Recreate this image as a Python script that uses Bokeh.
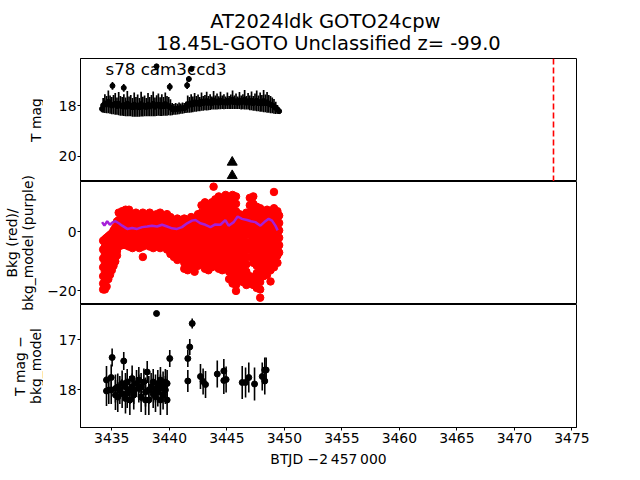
import numpy as np
from bokeh.plotting import figure
from bokeh.layouts import column, row
from bokeh.models import Range1d, FixedTicker, Span, Label
from bokeh.embed import file_html
from bokeh.resources import INLINE

# ---------------- texts ----------------
title_line1 = "AT2024ldk  GOTO24cpw"
title_line2 = "18.45L-GOTO Unclassified z= -99.0"
sector_label = "s78 cam3ccd3"
x_label = "BTJD \u22122\u2009457\u2009000"
y_label_top = ["T mag"]
y_label_mid = ["Bkg (red)/", "bkg_model (purple)"]
y_label_bot = ["T mag \u2212", "bkg_model"]

x_ticks = [3435, 3440, 3445, 3450, 3455, 3460, 3465, 3470, 3475]
top_ticks = [18, 20]
mid_ticks = [-20, 0]
bot_ticks = [17, 18]

# ---------------- top panel: T mag ----------------
tmag_time = [3434.15, 3434.25, 3434.40, 3434.55, 3434.70, 3434.85, 3435.00, 3435.06, 3435.15, 3435.30,
             3435.45, 3435.60, 3435.75, 3435.90, 3436.04, 3436.05, 3436.20, 3436.35, 3436.50, 3436.65,
             3436.80, 3436.95, 3437.10, 3437.25, 3437.40, 3437.55, 3437.70, 3437.85, 3438.00, 3438.15,
             3438.30, 3438.45, 3438.60, 3438.75, 3438.90, 3438.89, 3439.05, 3439.20, 3439.35, 3439.50,
             3439.65, 3439.80, 3439.95, 3440.04, 3440.10, 3440.25, 3440.40, 3440.55, 3440.70, 3440.85,
             3441.00, 3441.15, 3441.30, 3441.45, 3441.55, 3441.70, 3441.93, 3441.60, 3441.75, 3441.90,
             3442.05, 3442.20, 3442.35, 3442.50, 3442.65, 3442.80, 3442.95, 3443.10, 3443.25, 3443.40,
             3443.55, 3443.70, 3443.85, 3444.00, 3444.15, 3444.30, 3444.45, 3444.60, 3444.75, 3444.90,
             3445.05, 3445.20, 3445.35, 3445.50, 3445.65, 3445.80, 3445.95, 3446.10, 3446.25, 3446.40,
             3446.55, 3446.70, 3446.85, 3447.00, 3447.15, 3447.30, 3447.45, 3447.60, 3447.75, 3447.90,
             3448.05, 3448.20, 3448.35, 3448.50, 3448.65, 3448.80, 3448.95, 3449.10, 3449.25, 3449.40,
             3449.55]
tmag = [18.13, 17.99, 17.92, 17.96, 17.85, 17.96, 18.00, 17.22, 17.96, 17.93,
        18.02, 17.92, 18.01, 18.03, 17.30, 17.98, 18.05, 17.92, 18.03, 18.00,
        18.07, 17.96, 18.05, 18.00, 18.07, 17.94, 18.04, 18.01, 18.06, 17.96,
        18.04, 18.00, 17.93, 18.05, 18.00, 16.45, 17.96, 18.04, 17.98, 18.03,
        17.94, 18.01, 18.02, 17.26, 18.07, 18.14, 18.15, 18.13, 18.14, 18.11,
        18.12, 18.10, 18.10, 18.07, 17.20, 16.95, 16.55, 17.94, 17.97, 17.91,
        17.95, 17.87, 17.93, 17.89, 17.94, 17.84, 17.91, 17.88, 17.82, 17.90,
        17.86, 17.90, 17.79, 17.88, 17.84, 17.89, 17.80, 17.87, 17.85, 17.89,
        17.81, 17.88, 17.85, 17.77, 17.87, 17.83, 17.89, 17.80, 17.88, 17.85,
        17.77, 17.89, 17.83, 17.89, 17.81, 17.91, 17.86, 17.81, 17.91, 17.86,
        17.91, 17.82, 17.91, 17.87, 17.93, 17.96, 17.99, 18.03, 18.09, 18.15,
        18.22]
tmag_err = [0.13, 0.29, 0.37, 0.34, 0.45, 0.36, 0.34, 0.15, 0.38, 0.43,
            0.34, 0.46, 0.39, 0.37, 0.15, 0.43, 0.37, 0.50, 0.39, 0.42,
            0.37, 0.48, 0.39, 0.44, 0.37, 0.49, 0.39, 0.41, 0.36, 0.46,
            0.38, 0.42, 0.49, 0.37, 0.41, 0.08, 0.44, 0.37, 0.43, 0.37,
            0.46, 0.39, 0.36, 0.15, 0.32, 0.24, 0.21, 0.23, 0.21, 0.23,
            0.20, 0.22, 0.20, 0.22, 0.15, 0.12, 0.10, 0.34, 0.31, 0.36,
            0.31, 0.37, 0.31, 0.33, 0.28, 0.36, 0.29, 0.30, 0.37, 0.28,
            0.31, 0.26, 0.37, 0.28, 0.32, 0.26, 0.35, 0.27, 0.30, 0.25,
            0.33, 0.26, 0.29, 0.37, 0.27, 0.31, 0.25, 0.34, 0.28, 0.30,
            0.39, 0.27, 0.33, 0.29, 0.37, 0.29, 0.34, 0.41, 0.31, 0.38,
            0.33, 0.44, 0.35, 0.41, 0.35, 0.34, 0.31, 0.29, 0.24, 0.17,
            0.10]

limit_time = [3445.47, 3445.47]
limit_mag = [20.24, 20.77]
event_time = 3473.4

# ---------------- middle panel: background ----------------
bkg_time = [3434.25, 3434.40, 3434.55, 3434.70, 3434.85, 3435.00, 3435.15, 3435.30, 3435.45,
            3435.60, 3435.90, 3436.20, 3436.50, 3436.80, 3437.10, 3437.40, 3437.70, 3438.00,
            3438.30, 3438.60, 3438.90, 3439.20, 3439.50, 3439.80,
            3440.10, 3440.40, 3440.70, 3441.00, 3441.30, 3441.60, 3441.90, 3442.20, 3442.50,
            3442.80, 3443.10, 3443.40, 3443.70, 3443.85, 3444.00, 3444.30, 3444.60, 3444.90,
            3445.20, 3445.50, 3445.80, 3446.10, 3446.40, 3446.70, 3447.00, 3447.30, 3447.60,
            3447.90, 3448.20, 3448.50, 3448.80, 3449.10, 3449.40, 3449.55]
bkg_values = [
    [-3.0, -6.0, -9.0, -12.0, -15.0, -17.5, -19.5],
    [-2.5, -5.0, -7.5, -10.5, -13.5, -16.5, -19.5],
    [-2.0, -4.5, -7.5, -10.5, -13.5, -16.0, -18.5],
    [-1.5, -4.0, -6.5, -9.5, -12.5, -16.0],
    [-1.0, -3.5, -6.0, -9.0, -12.0, -14.5],
    [-0.5, -3.0, -5.5, -8.5, -11.0, -13.0],
    [0.5, -2.0, -4.5, -7.0, -9.5, -11.5],
    [1.5, -1.0, -3.5, -6.0, -8.5, -10.0],
    [3.5, 1.0, -1.5, -4.0, -6.5, -8.0],
    [6.5, 4.0, 1.5, -1.0, -3.5, -5.0],
    [7.0, 5.0, 2.5, 0.0, -2.5, -4.5],
    [7.5, 5.5, 3.0, 0.5, -2.0, -4.5],
    [7.5, 4.5, 2.0, -0.5, -3.0, -5.0],
    [6.0, 3.5, 1.0, -1.5, -4.0, -5.5],
    [6.5, 4.5, 2.0, -0.5, -3.0, -4.5],
    [5.5, 3.5, 1.0, -1.5, -4.0, -5.5],
    [6.5, 4.0, 1.5, -1.0, -3.5, -5.0, -8.5],
    [5.5, 3.0, 0.5, -2.0, -4.5],
    [6.5, 4.5, 2.0, -0.5, -3.0, -5.0],
    [5.5, 3.5, 1.0, -1.5, -4.0, -5.5],
    [6.0, 4.0, 1.5, -1.0, -3.5, -5.0],
    [6.5, 3.5, 1.0, -1.5, -4.0, -5.5],
    [5.5, 4.5, 2.0, -0.5, -3.0, -5.0],
    [6.0, 3.5, 1.0, -1.5, -4.0, -6.0],
    [5.0, 2.5, 0.0, -2.5, -5.0, -7.5],
    [4.0, 1.5, -1.0, -3.5, -6.0, -8.5],
    [4.5, 2.0, -0.5, -3.0, -5.5, -8.0, -9.5],
    [3.5, 1.0, -1.5, -4.0, -6.5, -9.0],
    [4.5, 2.0, -0.5, -3.0, -5.5, -8.0, -10.5, -12.5],
    [4.0, 1.5, -1.0, -3.5, -6.0, -8.5, -11.0, -13.0],
    [5.0, 2.5, 0.0, -2.5, -5.0, -7.5, -10.0, -12.5],
    [4.0, 1.5, -1.0, -3.5, -6.0, -8.5, -11.0, -13.5],
    [6.0, 3.5, 1.0, -1.5, -4.0, -6.5, -9.0, -11.5],
    [9.0, 6.5, 4.0, 1.5, -1.0, -3.5, -6.0, -8.5, -11.0],
    [10.0, 7.5, 5.0, 2.5, 0.0, -2.5, -5.0, -7.5, -10.0, -12.5],
    [9.0, 6.5, 4.0, 1.5, -1.0, -3.5, -6.0, -8.5, -11.0, -13.0],
    [10.0, 7.5, 5.0, 2.5, 0.0, -2.5, -5.0, -7.5, -10.0, -12.0],
    [15.3],
    [11.0, 8.5, 6.0, 3.5, 1.0, -1.5, -4.0, -6.5, -9.0, -11.5],
    [12.0, 9.5, 7.0, 4.5, 2.0, -0.5, -3.0, -5.5, -8.0, -10.5, -12.5],
    [11.5, 9.0, 6.5, 4.0, 1.5, -1.0, -3.5, -6.0, -8.5, -11.0, -13.0],
    [12.5, 10.0, 7.5, 5.0, 2.5, 0.0, -2.5, -5.0, -7.5, -10.0, -12.0],
    [11.5, 9.0, 6.5, 4.0, 1.5, -1.0, -3.5, -6.0, -8.5, -11.0, -13.5, -16.0],
    [12.5, 10.0, 7.5, 5.0, 2.5, 0.0, -2.5, -5.0, -7.5, -10.0, -12.5, -15.0, -17.5],
    [12.0, 9.5, 7.0, 4.5, 2.0, -0.5, -3.0, -5.5, -8.0, -10.5, -13.0, -15.5, -18.0, -20.0],
    [6.0, 3.5, 1.0, -1.5, -4.0, -6.5, -9.0, -11.5, -14.0, -16.5],
    [5.5, 3.0, 0.5, -2.0, -4.5, -7.0, -9.5, -12.0, -14.5, -17.0],
    [6.5, 4.0, 1.5, -1.0, -3.5, -6.0, -8.5, -11.0, -13.5, -16.0, -18.0],
    [11.5, 9.0, 6.5, 4.0, 1.5, -1.0, -3.5, -6.0, -8.5, -15.0, -17.5],
    [12.0, 9.5, 7.0, 4.5, 2.0, -0.5, -3.0, -5.5, -8.0, -10.5, -15.5, -18.0],
    [8.5, 6.0, 3.5, 1.0, -1.5, -4.0, -6.5, -9.0, -11.5, -14.0, -16.5, -19.0],
    [8.0, 5.5, 3.0, 0.5, -2.0, -4.5, -7.0, -9.5, -12.0, -14.5, -17.0, -19.5, -22.3],
    [7.0, 4.5, 2.0, -0.5, -3.0, -5.5, -8.0, -10.5, -13.0, -15.0],
    [7.5, 5.0, 2.5, 0.0, -2.5, -5.0, -7.5, -10.0, -12.5, -14.5],
    [7.0, 4.5, 2.0, -0.5, -3.0, -5.5, -8.0, -10.5, -13.0, -16.8],
    [13.5, 8.0, 5.5, 3.0, 0.5, -2.0, -4.5, -7.0, -9.5, -12.0],
    [7.0, 4.5, 2.0, -0.5, -3.0, -5.5, -8.0, -10.5],
    [5.5, 3.0, 0.5, -2.0, -4.5, -7.0],
]

model_time = [3434.16, 3434.36, 3434.60, 3434.83, 3435.09, 3435.32, 3435.61, 3435.90, 3436.34, 3436.77,
              3437.20, 3437.64, 3438.08, 3438.50, 3438.94, 3439.37, 3439.81, 3440.24, 3440.67, 3441.10,
              3441.55, 3441.98, 3442.27, 3442.70, 3443.14, 3443.57, 3444.00, 3444.44, 3444.87, 3445.16,
              3445.60, 3445.94, 3446.32, 3446.75, 3447.10, 3447.48, 3447.92, 3448.26, 3448.64, 3448.93,
              3449.22, 3449.42]
model_bkg = [3.3, 2.1, 3.6, 2.4, 3.3, 3.6, 2.9, 2.1, 1.0, 1.3,
             1.0, 1.6, 1.8, 2.1, 1.8, 2.4, 1.8, 1.2, 1.0, 1.6,
             2.9, 3.8, 4.0, 2.9, 2.4, 1.6, 2.5, 2.4, 4.0, 2.1,
             3.3, 5.2, 4.4, 4.0, 3.6, 3.3, 2.1, 3.3, 4.4, 3.8,
             2.1, 0.5]

# ---------------- bottom panel: T mag - bkg_model ----------------
diff_time = [3434.54, 3434.54, 3434.74, 3434.95, 3434.95, 3435.03, 3435.32, 3435.32, 3435.52, 3435.52,
             3435.70, 3435.90, 3435.90, 3436.04, 3436.19, 3436.19, 3436.34, 3436.34, 3436.57, 3436.57,
             3436.77, 3436.77, 3436.91, 3436.91, 3437.15, 3437.35, 3437.35, 3437.55, 3437.55, 3437.79,
             3437.93, 3437.93, 3438.08, 3438.22, 3438.22, 3438.42, 3438.60, 3438.60, 3438.80, 3438.80,
             3438.89, 3439.00, 3439.00, 3439.23, 3439.23, 3439.23, 3439.46, 3439.46, 3439.66, 3439.66,
             3439.81, 3439.81, 3440.04, 3441.61, 3441.61, 3441.78, 3441.99, 3442.71, 3442.94, 3443.15,
             3444.17, 3444.74, 3444.74, 3444.94, 3446.34, 3446.63, 3446.91, 3447.41, 3448.08, 3448.30,
             3448.30, 3448.42]
diff_mag = [17.81, 18.03, 18.01, 17.76, 18.01, 17.36, 17.98, 18.11, 17.95, 18.15,
            18.01, 17.88, 18.08, 17.43, 17.95, 18.18, 17.85, 18.08, 18.01, 18.21,
            17.78, 17.95, 18.01, 18.11, 17.88, 17.98, 17.81, 17.95, 18.15, 17.85,
            18.05, 18.21, 17.65, 18.01, 18.21, 17.95, 18.08, 17.85, 17.98, 18.15,
            16.48, 17.88, 18.05, 17.81, 17.98, 18.21, 17.91, 18.11, 18.01, 17.85,
            18.21, 17.88, 17.38, 17.38, 17.83, 17.15, 16.68, 17.74, 17.84, 17.90,
            17.69, 17.63, 17.82, 17.80, 17.86, 17.86, 17.76, 17.89, 17.74, 17.83,
            17.61, 17.61]
diff_err = [0.28, 0.30, 0.28, 0.26, 0.28, 0.18, 0.28, 0.30, 0.27, 0.30,
            0.28, 0.26, 0.29, 0.18, 0.28, 0.30, 0.26, 0.29, 0.28, 0.30,
            0.26, 0.27, 0.28, 0.29, 0.27, 0.28, 0.26, 0.28, 0.30, 0.27,
            0.29, 0.30, 0.22, 0.28, 0.30, 0.28, 0.29, 0.26, 0.28, 0.30,
            0.03, 0.27, 0.29, 0.26, 0.28, 0.30, 0.27, 0.29, 0.28, 0.26,
            0.30, 0.27, 0.17, 0.17, 0.22, 0.16, 0.10, 0.25, 0.26, 0.27,
            0.27, 0.24, 0.27, 0.26, 0.33, 0.30, 0.30, 0.33, 0.28, 0.27,
            0.25, 0.25]

# ---------------- build ----------------
FONT = "DejaVu Sans"
x_range = Range1d(3432.28, 3475.4)


def blank(width, height):
    f = figure(width=width, height=height, x_range=Range1d(0, width), y_range=Range1d(0, height),
               x_axis_location=None, y_axis_location=None, output_backend="svg",
               toolbar_location=None, min_border=0)
    f.outline_line_color = None
    f.background_fill_color = "white"
    f.border_fill_color = "white"
    for g in f.grid:
        g.visible = False
    return f


def style(p, yticks, overrides=None):
    p.outline_line_color = "black"
    p.outline_line_width = 1
    p.background_fill_color = "white"
    p.border_fill_color = "white"
    for g in p.grid:
        g.visible = False
    for ax in p.axis:
        ax.axis_line_color = "black"
        ax.major_tick_line_color = "black"
        ax.minor_tick_line_color = None
        ax.major_tick_in = 0
        ax.major_tick_out = 3
        ax.major_label_text_font = FONT
        ax.major_label_text_font_size = "13.9px"
        ax.major_label_text_color = "black"
        ax.major_label_standoff = 2
        ax.axis_label_text_font = FONT
        ax.axis_label_text_font_size = "13.9px"
        ax.axis_label_text_font_style = "normal"
        ax.axis_label_text_color = "black"
        ax.axis_label_standoff = 5
    p.yaxis.major_label_standoff = 1
    p.yaxis.ticker = FixedTicker(ticks=yticks)
    if overrides:
        p.yaxis.major_label_overrides = overrides


LABEL_W = 43
common = dict(frame_width=496, frame_height=123, x_range=x_range,
              output_backend="svg", toolbar_location=None,
              min_border_left=80 - LABEL_W, min_border_right=64)

# title strip (page y 0..58)
title_fig = blank(640, 58)
title_fig.add_layout(Label(x=328, y=37, text=title_line1, text_font=FONT, text_font_size="19.5px",
                           text_align="center", text_baseline="alphabetic", text_color="black"))
title_fig.add_layout(Label(x=328, y=15, text=title_line2, text_font=FONT, text_font_size="19.5px",
                           text_align="center", text_baseline="alphabetic", text_color="black"))

# y-label strip (page y 58..480)
label_fig = blank(LABEL_W, 422)
label_specs = [(y_label_top, [35.5], 360.5), (y_label_mid, [11, 27], 237.5), (y_label_bot, [19.5, 35.5], 114.5)]
for lines, xs, yc in label_specs:
    for txt, xc in zip(lines, xs):
        label_fig.add_layout(Label(x=xc, y=yc, text=txt, angle=np.pi / 2, text_font=FONT,
                                   text_font_size="13.9px", text_align="center",
                                   text_baseline="middle", text_color="black"))

# top panel
p1 = figure(y_range=Range1d(21.0, 16.14), x_axis_location=None,
            min_border_top=0, min_border_bottom=0, **common)
style(p1, top_ticks)
tt = np.array(tmag_time)
tm = np.array(tmag)
te = np.array(tmag_err)
p1.segment(x0=tt, y0=tm - te, x1=tt, y1=tm + te, line_color="black", line_width=1.7)
p1.scatter(tt, tm, size=5, color="black")
p1.scatter(limit_time, limit_mag, marker="triangle", size=10, color="black")
p1.add_layout(Span(location=event_time, dimension="height", line_color="red",
                   line_dash="6 3", line_width=1.6))
p1.add_layout(Label(x=3434.45, y=16.55, text=sector_label, text_font=FONT,
                    text_font_size="16.7px", text_baseline="alphabetic",
                    text_color="black"))

# middle panel
p2 = figure(y_range=Range1d(-24.6, 17.05), x_axis_location=None,
            min_border_top=0, min_border_bottom=0, **common)
style(p2, mid_ticks, {-20: "\u221220", 0: "0"})
bx = [t for t, vals in zip(bkg_time, bkg_values) for v in vals]
by = [v for vals in bkg_values for v in vals]
p2.scatter(bx, by, size=7.5, color="red")
p2.line(model_time, model_bkg, line_color="#a51fd8", line_width=2.5)

# bottom panel
p3 = figure(y_range=Range1d(18.76, 16.3), min_border_top=0, min_border_bottom=53, **common)
style(p3, bot_ticks)
p3.xaxis.ticker = FixedTicker(ticks=x_ticks)
p3.xaxis.axis_label = x_label
dt = np.array(diff_time)
dm = np.array(diff_mag)
de = np.array(diff_err)
p3.segment(x0=dt, y0=dm - de, x1=dt, y1=dm + de, line_color="black", line_width=1.6)
p3.scatter(dt, dm, size=6, color="black")

layout = column(title_fig, row(label_fig, column(p1, p2, p3, spacing=0), spacing=0), spacing=0)
open("out.html", "w").write(file_html(layout, INLINE))
